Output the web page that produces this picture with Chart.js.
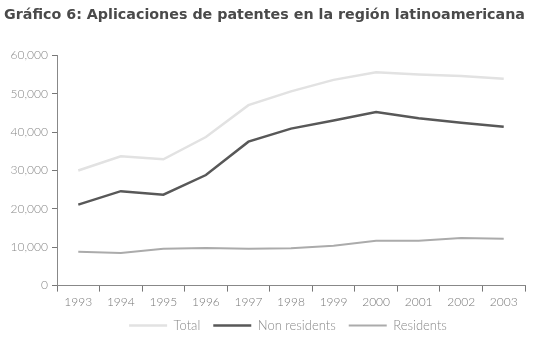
<!DOCTYPE html>
<html>
<head>
<meta charset="utf-8">
<script src="https://cdn.jsdelivr.net/npm/chart.js@4"></script>
<style>
  html, body { margin: 0; padding: 0; background: #fff; }
  #wrap { width: 537px; height: 340px; position: relative; }
</style>
</head>
<body>
<div id="wrap"><canvas id="chart"></canvas></div>
<script>
const years = ['1993', '1994', '1995', '1996', '1997', '1998', '1999', '2000', '2001', '2002', '2003'];
const total = [30000, 33700, 32900, 38700, 47000, 50600, 53600, 55600, 55000, 54600, 53900];
const nonResidents = [21100, 24600, 23700, 28800, 37500, 40900, 43000, 45200, 43600, 42400, 41400];
const residents = [8800, 8500, 9600, 9800, 9600, 9700, 10400, 11700, 11700, 12400, 12200];
const yTicks = [0, 10000, 20000, 30000, 40000, 50000, 60000];

const font = "'Lato', 'DejaVu Sans', sans-serif";

// legend gets wide item spacing but a shorter box, drawn under the plot's centre
const tightLegend = {
    id: 'tightLegend',
    afterInit(chart) {
        const lg = chart.legend;
        const fit = lg.fit;
        const draw = lg.draw;
        lg.fit = function () {
            fit.call(this);
            this.height -= 8;
        };
        lg.draw = function () {
            const ctx = this.ctx;
            const area = chart.chartArea;
            const dx = (area.left + area.right) / 2 - (this.left + this.right) / 2 - 3;
            ctx.save();
            ctx.translate(dx, -6);
            draw.call(this);
            ctx.restore();
        };
    }
};

new Chart(document.getElementById('chart'), {
    type: 'line',
    data: {
        labels: years,
        datasets: [
            { label: 'Total', data: total, borderColor: '#e2e2e2', borderWidth: 2.5 },
            { label: 'Non residents', data: nonResidents, borderColor: '#585858', borderWidth: 2.5 },
            { label: 'Residents', data: residents, borderColor: '#ababab', borderWidth: 2 }
        ]
    },
    plugins: [tightLegend],
    options: {
        responsive: true,
        maintainAspectRatio: false,
        animation: false,
        elements: { point: { radius: 0 }, line: { tension: 0 } },
        layout: { padding: { left: 4, right: 12, top: 0, bottom: 0 } },
        plugins: {
            title: {
                display: true,
                text: 'Gráfico 6: Aplicaciones de patentes en la región latinoamericana',
                align: 'start',
                color: '#4a4a4a',
                font: { family: "'DejaVu Sans', sans-serif", size: 14.4, weight: 'bold' },
                padding: { top: 7, bottom: 31 }
            },
            legend: {
                position: 'bottom',
                labels: {
                    boxWidth: 38,
                    boxHeight: 0,
                    color: '#888',
                    font: { family: font, size: 13, weight: 300 },
                    padding: 13
                }
            },
            tooltip: { enabled: false }
        },
        scales: {
            x: {
                type: 'category',
                offset: true,
                grid: { display: true, offset: true, drawOnChartArea: false, color: '#777', tickLength: 6 },
                border: { color: '#888', dash: [1, 1] },
                ticks: { color: '#777', font: { family: font, size: 12, weight: 300 }, padding: 3 }
            },
            y: {
                min: 0,
                max: 60000,
                afterBuildTicks: axis => { axis.ticks = yTicks.map(v => ({ value: v })); },
                afterFit: axis => { axis.width = 53; },
                grid: { display: true, drawOnChartArea: false, color: '#777', tickLength: 5 },
                border: { color: '#888', dash: [1, 1] },
                ticks: {
                    color: '#888',
                    font: { family: font, size: 12, weight: 300 },
                    padding: 4,
                    callback: v => v.toLocaleString('en-US')
                }
            }
        }
    }
});
</script>
</body>
</html>
